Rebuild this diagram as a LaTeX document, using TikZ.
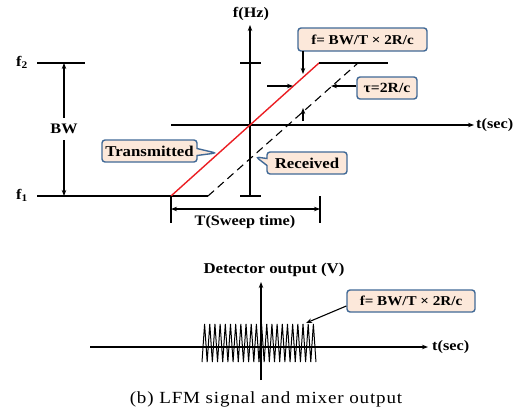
\documentclass[tikz,border=0pt]{standalone}
\usepackage{fontspec}
\setmainfont{Liberation Serif}
\newfontfamily\wfont{Liberation Serif}[FakeStretch=1.12]
\usetikzlibrary{arrows.meta,shapes.callouts}
\definecolor{boxblue}{RGB}{65,105,150}
\definecolor{boxfill}{RGB}{252,232,218}
\definecolor{chirpred}{RGB}{235,30,35}
\tikzset{
  ln/.style={line width=1.1pt},
  arr/.style={ln,-{Stealth[length=6pt,width=4.5pt]}},
  darr/.style={ln,{Stealth[length=6pt,width=4.5pt]}-{Stealth[length=6pt,width=4.5pt]}},
  lbl/.style={font=\wfont\fontsize{14.5}{16}\selectfont\bfseries,inner sep=0pt},
  bigbox/.style={rectangle callout,draw=boxblue,fill=boxfill,line width=1.4pt,rounded corners=3pt,
    font=\wfont\fontsize{15}{17}\selectfont\bfseries,inner sep=0pt,callout pointer width=7pt},
  eqbox/.style={rectangle,draw=boxblue,fill=boxfill,line width=1.4pt,rounded corners=3pt,
    font=\wfont\fontsize{13.5}{15}\selectfont\bfseries,inner sep=0pt},
  dash line/.style={ln,dash pattern=on 8pt off 5pt},
}
\begin{document}
\begin{tikzpicture}[x=1pt,y=-1pt]
\useasboundingbox (0,0) rectangle (522,418);
% ---------- top panel ----------
\coordinate (fax0) at (250,196);
\coordinate (fax1) at (250,25);
\coordinate (tax0) at (171,125);
\coordinate (tax1) at (474,125);
\draw[arr] (fax0) -- (fax1);
\node[lbl] (fhz) at (251,14) {f(Hz)};
\draw[arr] (tax0) -- (tax1);
\node[lbl,right] (tsec) at (476,125) {t(sec)};
% ticks on f axis
\coordinate (tt0) at (240,63); \coordinate (tt1) at (261,63);
\coordinate (bt0) at (240,196); \coordinate (bt1) at (261,196);
\draw[ln] (tt0) -- (tt1);
\draw[ln] (bt0) -- (bt1);
% f levels
\coordinate (f2a) at (37,63); \coordinate (f2b) at (85,63);
\coordinate (f1a) at (37,196); \coordinate (f1b) at (208,196);
\draw[ln] (f2a) -- (f2b);
\draw[ln] (f1a) -- (f1b);
\node[lbl] (f2) at (22,62) {f\textsubscript{2}};
\node[lbl] (f1) at (22,195) {f\textsubscript{1}};
% BW
\coordinate (bw0) at (64,63); \coordinate (bw1) at (64,196);
\draw[darr] (bw0) -- (bw1);
\node[lbl,fill=white,inner ysep=6pt,inner xsep=2pt] (bw) at (64,129) {BW};
% signals
\coordinate (ts) at (171,196); \coordinate (te) at (319,63);
\coordinate (rs) at (208,196); \coordinate (re) at (358,63);
\coordinate (tr) at (388,63);
\draw[line width=1.4pt,chirpred] (ts) -- (te);
\draw[dash line] (rs) -- (re);
\draw[ln] (te) -- (tr);
% sweep time
\coordinate (sw0) at (171,196); \coordinate (sw0b) at (171,223);
\coordinate (sw1) at (320,196); \coordinate (sw1b) at (320,223);
\draw[ln] (sw0) -- (sw0b);
\draw[ln] (sw1) -- (sw1b);
\coordinate (swa) at (171,209); \coordinate (swb) at (320,209);
\draw[darr] (swa) -- (swb);
\node[lbl] (sweep) at (245,222) {T(Sweep time)};
% boxes
\node[eqbox,minimum width=129pt,minimum height=23pt] (feq) at (362.5,39.5) {f= BW/T × 2R/c};
\coordinate (feqa) at (303,51); \coordinate (feqb) at (303,74);
\draw[arr] (feqa) -- (feqb);
\node[eqbox,minimum width=60pt,minimum height=22pt,font=\wfont\fontsize{14}{15}\selectfont\bfseries] (tau) at (387,88) {τ=2R/c};
\coordinate (taub) at (331,86);
\draw[arr] (tau.west |- 0,86) -- (taub);
\coordinate (la) at (267,86); \coordinate (lb) at (293,86);
\draw[arr] (la) -- (lb);
\coordinate (ua) at (303,121); \coordinate (ub) at (303,108);
\draw[arr] (ua) -- (ub);
\node[bigbox,minimum width=95pt,minimum height=22pt,callout absolute pointer={(216,153)}] (trans) at (149.5,151) {Transmitted};
\node[bigbox,minimum width=80pt,minimum height=22pt,callout absolute pointer={(256,157)}] (recv) at (307,163) {Received};
% ---------- bottom panel ----------
\coordinate (dax0) at (261,380); \coordinate (dax1) at (261,282);
\draw[arr] (dax0) -- (dax1);
\node[font=\wfont\fontsize{15}{17}\selectfont\bfseries,inner sep=0pt] (det) at (274,270) {Detector output (V)};
\coordinate (hax0) at (90,347); \coordinate (hax1) at (428,347);
\draw[arr] (hax0) -- (hax1);
\node[lbl,right] (tsec2) at (432,347) {t(sec)};
\draw[line width=1pt,line join=miter]
  (202,362) \foreach \i in {0,...,21} { -- ({202+5.18*\i+2.59},324) -- ({202+5.18*(\i+1)},362) };
\node[eqbox,minimum width=128pt,minimum height=22pt] (feq2) at (411,301) {f= BW/T × 2R/c};
\coordinate (fp) at (306,323);
\draw[ln,-{Stealth[length=6pt,width=4.5pt]}] (feq2.west |- 0,306) -- (fp);
% caption
\node[font=\wfont\fontsize{17}{19}\selectfont\addfontfeatures{LetterSpace=5},inner sep=0pt] (cap) at (266,399) {(b) LFM signal and mixer output};
\end{tikzpicture}
\end{document}
